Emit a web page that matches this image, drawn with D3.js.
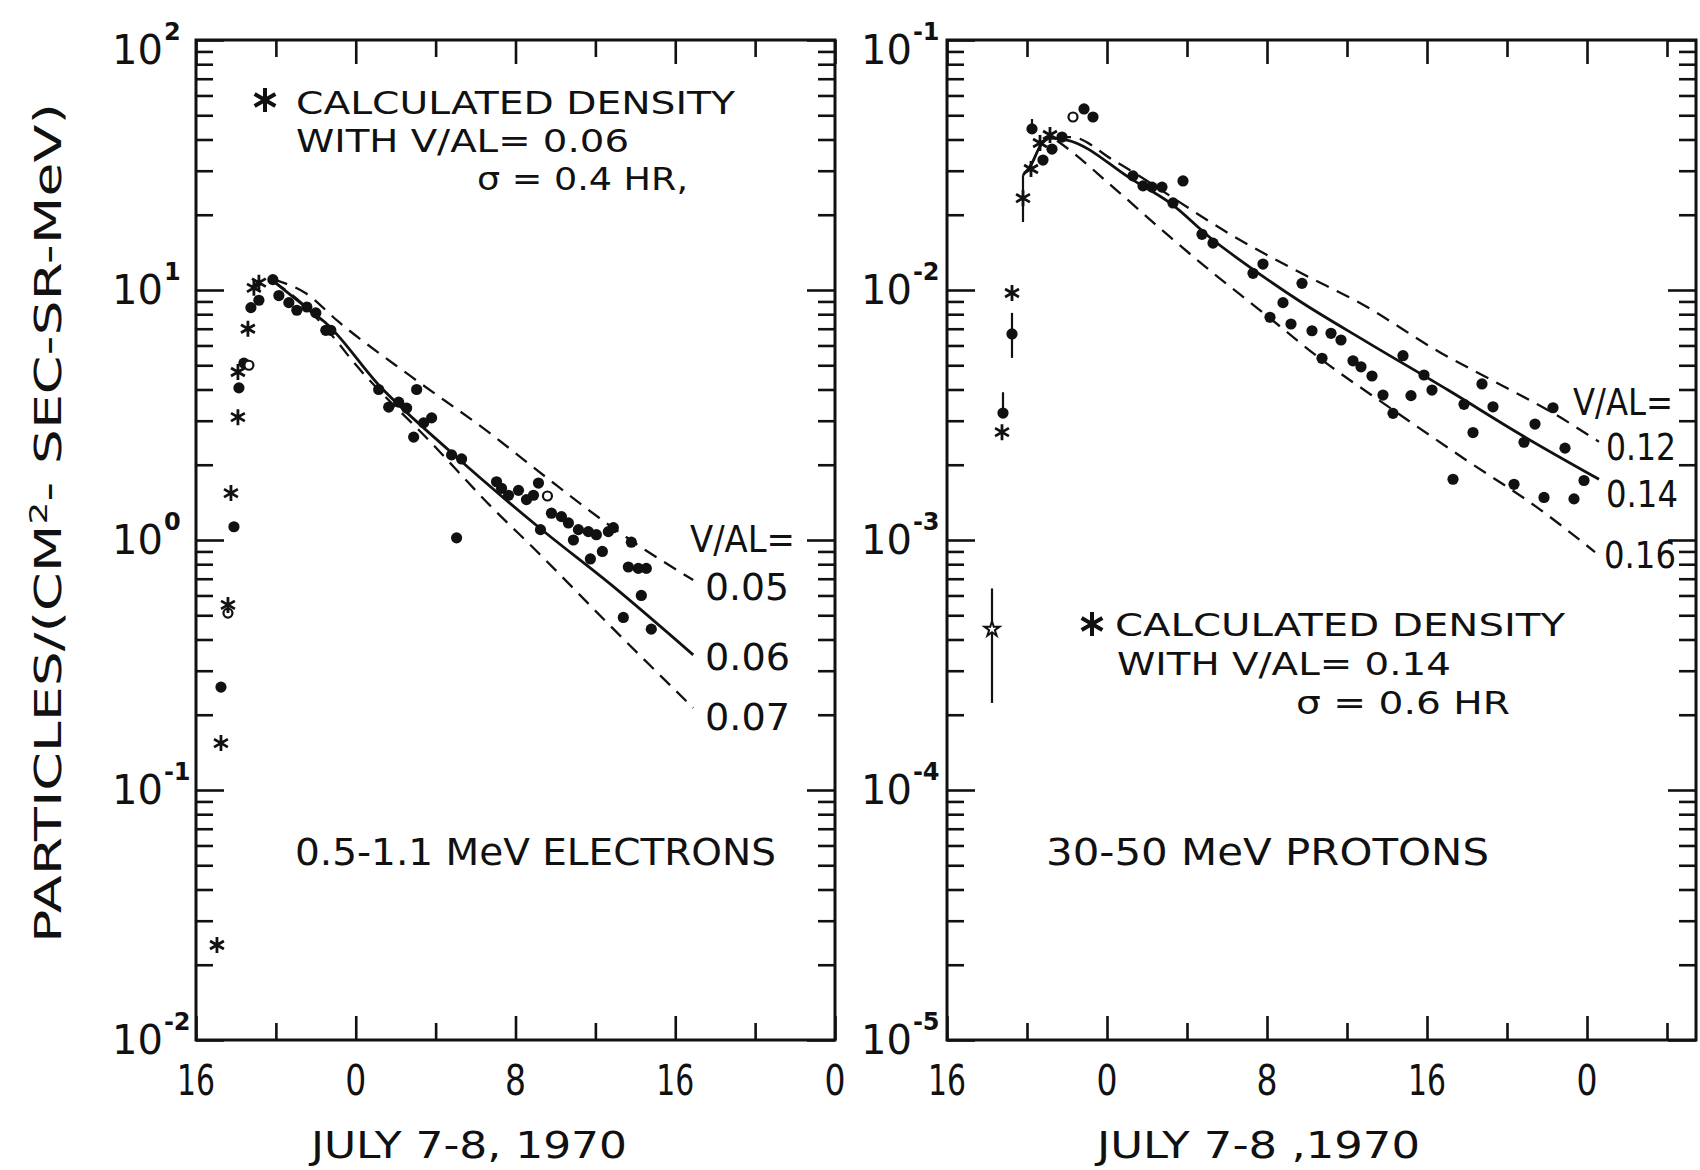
<!DOCTYPE html>
<html>
<head>
<meta charset="utf-8">
<script src="https://cdn.jsdelivr.net/npm/d3@7"></script>
<style>
  body { margin: 0; background: #fff; }
  svg { display: block; }
  text { font-family: "DejaVu Sans", "Liberation Sans", sans-serif; fill: #111; }
</style>
</head>
<body>
<svg id="chart"></svg>
<script>
// hours counted from 00 UT, July 8 1970
const xTickHours = [-8, -4, 0, 4, 8, 12, 16, 20, 24, 28];
const xLabelHours = [-8, 0, 8, 16, 24];
const xLabelText = ['16', '0', '8', '16', '0'];

const elecDecades = [-2, -1, 0, 1, 2];
const protDecades = [-5, -4, -3, -2, -1];

// 0.5-1.1 MeV electrons
const elecStars = [[-4.85, 10.7], [-5.1, 10.2], [-5.4, 7.0], [-5.9, 4.7], [-5.9, 3.1],
    [-6.25, 1.54], [-6.4, 0.55], [-6.75, 0.154], [-6.95, 0.024]];
const elecDots = [[-4.15, 11.0], [-4.85, 9.1], [-5.25, 8.5], [-5.6, 5.1], [-5.85, 4.06],
    [-6.1, 1.13], [-6.75, 0.258],
    [-3.85, 9.5], [-3.35, 8.9], [-2.95, 8.3], [-2.45, 8.55], [-2.0, 8.1], [-1.5, 6.9], [-1.25, 6.9],
    [1.15, 4.0], [1.65, 3.4], [2.15, 3.56], [2.55, 3.37], [3.05, 4.0], [2.9, 2.58], [3.4, 2.94],
    [3.8, 3.08], [4.8, 2.19], [5.3, 2.11], [5.05, 1.02],
    [7.05, 1.71], [7.3, 1.61], [7.65, 1.51], [8.15, 1.58], [8.55, 1.45], [8.9, 1.51], [9.15, 1.69],
    [9.25, 1.10], [9.8, 1.28], [10.3, 1.24], [10.65, 1.17], [10.9, 1.0], [11.15, 1.10], [11.65, 1.08],
    [12.05, 1.05], [12.65, 1.08], [12.9, 1.12], [11.75, 0.84], [12.35, 0.90], [13.8, 0.98],
    [13.65, 0.78], [14.15, 0.77], [14.55, 0.77], [14.3, 0.60], [13.4, 0.49], [14.8, 0.44]];
const elecOpen = [[-5.35, 5.0], [-6.4, 0.51], [9.6, 1.50]];
const elecCurve05 = [[-4.1, 11.0], [-2.5, 9.7], [-0.85, 7.45], [2.8, 4.49], [6.65, 2.70],
    [9.5, 1.79], [12.8, 1.13], [14.5, 0.912], [16.9, 0.692]];
const elecCurve06 = [[-4.1, 10.8], [-2.2, 8.17], [-1.5, 7.38], [1.15, 4.17], [4.65, 2.29],
    [9.15, 1.127], [12.8, 0.661], [16.9, 0.347]];
const elecCurve07 = [[-4.1, 10.8], [-2.6, 8.7], [-1.0, 6.31], [-0.2, 5.25], [3.8, 2.44],
    [6.8, 1.355], [9.0, 0.912], [12.8, 0.449], [16.9, 0.213]];

// 30-50 MeV protons
const protStars = [[-3.35, 0.0387], [-2.85, 0.0417], [-3.8, 0.0305], [-4.2, 0.0233],
    [-4.75, 0.00973], [-5.25, 0.0027]];
const protOpenStars = [[-5.75, 4.4e-4]];
const protDots = [[-3.75, 0.0441], [-2.75, 0.0366], [-3.2, 0.0331], [-2.25, 0.0409],
    [-1.15, 0.053], [-0.7, 0.0492], [-4.75, 0.00667], [-5.2, 0.00322],
    [1.3, 0.0286], [1.8, 0.0261], [2.25, 0.0258], [2.75, 0.0258], [3.3, 0.0223], [3.8, 0.0273],
    [4.75, 0.0167], [5.3, 0.0154],
    [7.3, 0.01166], [7.8, 0.0127], [9.75, 0.01063], [8.8, 0.0089], [8.15, 0.00778], [9.2, 0.00731],
    [10.25, 0.00687], [11.2, 0.00671], [11.7, 0.00631], [10.75, 0.00533], [12.3, 0.00521],
    [12.7, 0.00493], [13.25, 0.00453], [14.8, 0.00546], [13.8, 0.0038], [15.2, 0.00378],
    [15.85, 0.00457], [16.25, 0.00398], [14.3, 0.00321], [17.85, 0.00349], [18.75, 0.00421],
    [19.3, 0.00341], [18.3, 0.00269], [20.85, 0.00246], [21.4, 0.00291], [22.3, 0.00338],
    [22.9, 0.00233], [23.85, 0.00173], [17.3, 0.00175], [20.35, 0.00167], [21.85, 0.00148],
    [23.35, 0.00146]];
const protOpen = [[-1.7, 0.0492]];
// [hour, low, high]
const protErrors = [[-3.75, 0.0441, 0.0483], [-4.2, 0.0187, 0.0288], [-4.75, 0.00535, 0.0081],
    [-5.2, 0.00322, 0.0039], [-5.75, 2.23e-4, 6.4e-4]];
const protCurve12 = [[-2.5, 0.041], [-1.75, 0.0409], [0.3, 0.0331], [6.65, 0.01585], [9.7, 0.01169],
    [12.65, 0.00887], [16.7, 0.0056], [19.7, 0.00417], [22.3, 0.00322], [24.6, 0.00247]];
const protCurve14 = [[-4.2, 0.0288], [-3.8, 0.0316], [-3.35, 0.0375], [-2.85, 0.0405], [-2.0, 0.0398],
    [1.3, 0.0275], [3.15, 0.0223], [5.3, 0.01585], [6.65, 0.01318], [9.7, 0.00895], [13.0, 0.00619],
    [17.05, 0.00398], [20.55, 0.00268], [24.6, 0.00175]];
const protCurve16 = [[-2.5, 0.0395], [-2.2, 0.038], [0.3, 0.0258], [3.15, 0.0163], [5.3, 0.0117],
    [6.65, 0.0096], [7.95, 0.00794], [10.55, 0.0054], [14.1, 0.0034], [17.95, 0.00209],
    [21.45, 0.00136], [24.4, 0.000895]];

const svg = d3.select('#chart').attr('width', 1700).attr('height', 1170);

function starPath(cx, cy, r) {
    const dx = r * Math.cos(Math.PI / 6), dy = r * Math.sin(Math.PI / 6);
    return `M${cx},${cy - r}L${cx},${cy + r}M${cx - dx},${cy - dy}L${cx + dx},${cy + dy}` +
        `M${cx - dx},${cy + dy}L${cx + dx},${cy - dy}`;
}

class decayPanel {

    constructor(_config, _data) {
        this.config = _config;
        this.data = _data;
        this.initVis();
    }

    initVis() {
        let vis = this;
        const c = vis.config;

        vis.g = svg.append('g');

        vis.x = d3.scaleLinear().domain(c.hours).range([c.left, c.right]);
        vis.y = d3.scaleLog().domain(c.yDomain).range([c.bottom, c.top]);

        const majors = c.decades.map(e => Math.pow(10, e));
        const minors = [];
        c.decades.slice(0, -1).forEach(e => {
            for (let k = 2; k <= 9; k++) minors.push(k * Math.pow(10, e));
        });
        const longHours = xTickHours.filter(h => xLabelHours.includes(h) && h <= c.hours[1]);
        const shortHours = xTickHours.filter(h => !xLabelHours.includes(h) && h <= c.hours[1]);

        // inward ticks on all four sides
        const sides = [
            [d3.axisRight(vis.y).tickValues(majors).tickSize(28), `translate(${c.left},0)`],
            [d3.axisRight(vis.y).tickValues(minors).tickSize(17), `translate(${c.left},0)`],
            [d3.axisLeft(vis.y).tickValues(majors).tickSize(28), `translate(${c.right},0)`],
            [d3.axisLeft(vis.y).tickValues(minors).tickSize(17), `translate(${c.right},0)`],
            [d3.axisTop(vis.x).tickValues(longHours).tickSize(24), `translate(0,${c.bottom})`],
            [d3.axisTop(vis.x).tickValues(shortHours).tickSize(17), `translate(0,${c.bottom})`],
            [d3.axisBottom(vis.x).tickValues(longHours).tickSize(24), `translate(0,${c.top})`],
            [d3.axisBottom(vis.x).tickValues(shortHours).tickSize(17), `translate(0,${c.top})`]
        ];
        sides.forEach(([ax, tr]) => {
            const gAx = vis.g.append('g').attr('transform', tr).call(ax.tickFormat(''));
            gAx.select('.domain').remove();
            gAx.selectAll('line').attr('stroke', '#111').attr('stroke-width', 2.6);
        });

        vis.g.append('rect')
            .attr('x', c.left).attr('y', c.top)
            .attr('width', c.right - c.left).attr('height', c.bottom - c.top)
            .attr('fill', 'none').attr('stroke', '#111').attr('stroke-width', 3);

        // decade labels 10^n, one text each with a raised exponent
        c.decades.forEach((e, i) => {
            const yy = vis.y(Math.pow(10, e)) + (i === c.decades.length - 1 ? 10 : 0);
            const t = vis.g.append('text')
                .attr('x', c.labelX).attr('y', yy + 14);
            t.append('tspan').attr('font-size', 40).text('10');
            t.append('tspan').attr('dy', -24).attr('dx', 1).attr('font-size', 24)
                .attr('font-weight', 'bold')
                .text(e < 0 ? '-' + (-e) : String(e));
        });

        // hour labels
        xLabelHours.forEach((h, i) => {
            const t = xLabelText[i];
            vis.g.append('text')
                .attr('x', vis.x(h)).attr('y', 1095)
                .attr('text-anchor', 'middle')
                .attr('font-size', 43)
                .attr('textLength', t.length === 2 ? 38 : 21).attr('lengthAdjust', 'spacingAndGlyphs')
                .text(t);
        });

        vis.g.append('text')
            .attr('x', c.dateX).attr('y', 1158)
            .attr('font-size', 38).attr('textLength', c.dateW).attr('lengthAdjust', 'spacingAndGlyphs')
            .text(c.dateText);

        const line = d3.line()
            .x(d => vis.x(d[0])).y(d => vis.y(d[1]))
            .curve(d3.curveMonotoneX);

        vis.data.curves.forEach(cv => {
            vis.g.append('path')
                .attr('d', line(cv.values))
                .attr('fill', 'none').attr('stroke', '#111')
                .attr('stroke-width', cv.dashed ? 2.3 : 2.8)
                .attr('stroke-dasharray', cv.dashed ? '14,9' : null);
        });

        vis.g.selectAll('.err')
            .data(vis.data.errors)
            .join('line')
            .attr('x1', d => vis.x(d[0])).attr('x2', d => vis.x(d[0]))
            .attr('y1', d => vis.y(d[1])).attr('y2', d => vis.y(d[2]))
            .attr('stroke', '#111').attr('stroke-width', 2.2);

        vis.g.selectAll('.dot')
            .data(vis.data.dots)
            .join('circle')
            .attr('cx', d => vis.x(d[0])).attr('cy', d => vis.y(d[1]))
            .attr('r', 5.6).attr('fill', '#111');

        vis.g.selectAll('.open')
            .data(vis.data.open)
            .join('circle')
            .attr('cx', d => vis.x(d[0])).attr('cy', d => vis.y(d[1]))
            .attr('r', 4.5).attr('fill', '#fff').attr('stroke', '#111').attr('stroke-width', 2.2);

        vis.g.selectAll('.star')
            .data(vis.data.stars)
            .join('path')
            .attr('d', d => starPath(vis.x(d[0]), vis.y(d[1]), 8))
            .attr('stroke', '#111').attr('stroke-width', 2.8).attr('fill', 'none');

        vis.g.selectAll('.ostar')
            .data(vis.data.openStars)
            .join('path')
            .attr('transform', d => `translate(${vis.x(d[0])},${vis.y(d[1])})`)
            .attr('d', d3.symbol(d3.symbolStar, 70))
            .attr('fill', '#fff').attr('stroke', '#111').attr('stroke-width', 2);

        // annotations
        c.notes.forEach(n => {
            vis.g.append('text')
                .attr('x', n.x).attr('y', n.y)
                .attr('font-size', n.size || 38)
                .attr('textLength', n.w).attr('lengthAdjust', 'spacingAndGlyphs')
                .text(n.t);
        });
        vis.g.append('path')
            .attr('d', starPath(c.keyStar[0], c.keyStar[1], 12))
            .attr('stroke', '#111').attr('stroke-width', 4).attr('fill', 'none');
    }
}

new decayPanel({
    hours: [-8, 24], yDomain: [1e-2, 1e2], decades: elecDecades,
    left: 196, right: 835, top: 40, bottom: 1040, labelX: 112,
    dateX: 311, dateW: 316, dateText: 'JULY 7-8, 1970',
    keyStar: [265, 100],
    notes: [
        { t: 'CALCULATED DENSITY', x: 296, y: 114, w: 439, size: 32.5 },
        { t: 'WITH V/AL= 0.06', x: 296, y: 152, w: 333, size: 32.5 },
        { t: 'σ = 0.4 HR,', x: 477, y: 190, w: 211, size: 32.5 },
        { t: '0.5-1.1 MeV ELECTRONS', x: 295, y: 865, w: 481 },
        { t: 'V/AL=', x: 690, y: 552, w: 105 },
        { t: '0.05', x: 705, y: 600, w: 84 },
        { t: '0.06', x: 705, y: 670, w: 85 },
        { t: '0.07', x: 705, y: 730, w: 85 }
    ]
}, {
    curves: [
        { values: elecCurve05, dashed: true },
        { values: elecCurve06, dashed: false },
        { values: elecCurve07, dashed: true }
    ],
    dots: elecDots, open: elecOpen, stars: elecStars, openStars: [], errors: []
});

new decayPanel({
    hours: [-8, 29.45], yDomain: [1e-5, 1e-1], decades: protDecades,
    left: 947, right: 1696, top: 40, bottom: 1040, labelX: 861,
    dateX: 1097, dateW: 323, dateText: 'JULY 7-8 ,1970',
    keyStar: [1092, 624],
    notes: [
        { t: 'CALCULATED DENSITY', x: 1115, y: 636, w: 450, size: 32.5 },
        { t: 'WITH V/AL= 0.14', x: 1117, y: 675, w: 334, size: 32.5 },
        { t: 'σ = 0.6 HR', x: 1296, y: 714, w: 214, size: 32.5 },
        { t: '30-50 MeV PROTONS', x: 1046, y: 865, w: 443 },
        { t: 'V/AL=', x: 1573, y: 415, w: 100 },
        { t: '0.12', x: 1606, y: 460, w: 70 },
        { t: '0.14', x: 1606, y: 507, w: 72 },
        { t: '0.16', x: 1604, y: 568, w: 72 }
    ]
}, {
    curves: [
        { values: protCurve12, dashed: true },
        { values: protCurve14, dashed: false },
        { values: protCurve16, dashed: true }
    ],
    dots: protDots, open: protOpen, stars: protStars, openStars: protOpenStars, errors: protErrors
});

// shared y title
svg.append('text')
    .attr('transform', 'translate(61,523) rotate(-90)')
    .attr('text-anchor', 'middle')
    .attr('font-size', 37).attr('textLength', 840).attr('lengthAdjust', 'spacingAndGlyphs')
    .call(t => {
        t.append('tspan').text('PARTICLES/(CM');
        t.append('tspan').attr('dy', -14).attr('font-size', 24).text('2');
        t.append('tspan').attr('dy', 14).text('- SEC-SR-MeV)');
    });
</script>
</body>
</html>
